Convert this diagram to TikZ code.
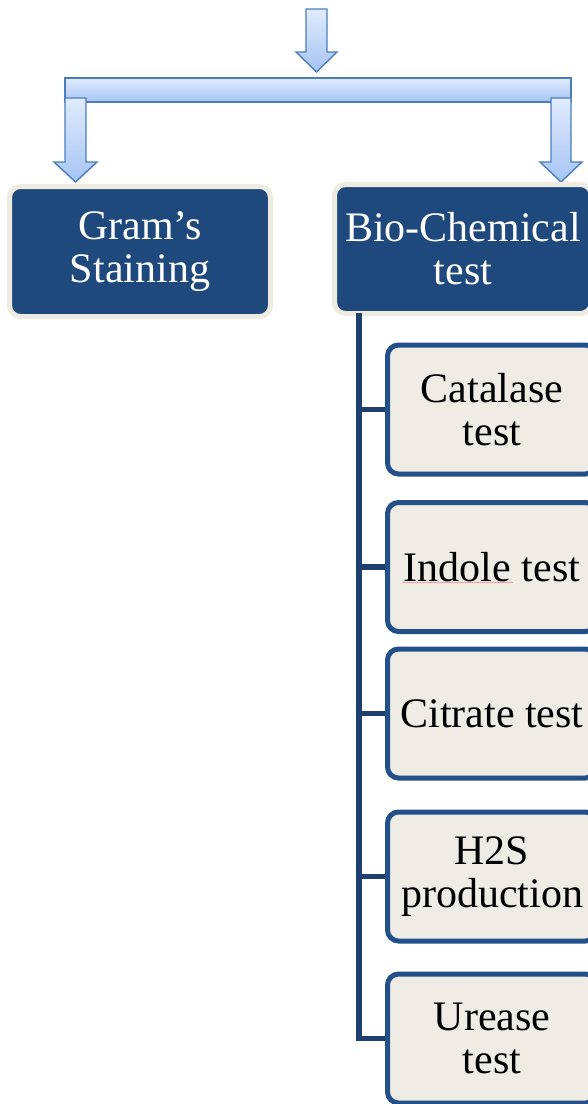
\documentclass[tikz,border=0pt]{standalone}
\usepackage{fontspec}
\setmainfont{Liberation Serif}
\usetikzlibrary{positioning}

\definecolor{arrowtop}{HTML}{E0EBFD}
\definecolor{arrowbot}{HTML}{A6C4F3}
\definecolor{arrowline}{HTML}{4A7EBB}
\definecolor{headfill}{HTML}{1F497D}
\definecolor{headrim}{HTML}{EEECE1}
\definecolor{testfill}{HTML}{EEECE5}
\definecolor{testline}{HTML}{24508A}
\definecolor{spinecol}{HTML}{1F3F6F}
\definecolor{spellred}{HTML}{F4A0A0}

\tikzset{
  blockarrow/.style={draw=arrowline, line width=1.4pt, line join=miter,
    top color=arrowtop, bottom color=arrowbot},
  headbox/.style={draw=headrim, line width=5pt, fill=headfill, rounded corners=11pt,
    text=white, align=center, inner sep=0pt,
    font=\fontsize{42}{43}\selectfont},
  testbox/.style={draw=testline, line width=5pt, fill=testfill, rounded corners=11pt,
    text=black, align=center, inner sep=0pt, minimum width=209pt, minimum height=129pt,
    font=\fontsize{42}{43}\selectfont},
  spine/.style={draw=spinecol, line width=5.5pt}
}

\begin{document}
\begin{tikzpicture}[x=1pt, y=-1pt]
  \useasboundingbox (0,0) rectangle (588,1104);
  \clip (0,0) rectangle (588,1104);

  % block arrows feeding the two branches
  \draw[blockarrow] (306,9) -- (327,9) -- (327,52) -- (337,52) -- (316.5,72)
    -- (296,52) -- (306,52) -- cycle;
  \draw[blockarrow] (65,78) rectangle (571,102);
  \draw[blockarrow] (65,98) -- (86,98) -- (86,162) -- (97,162) -- (75.5,182)
    -- (54,162) -- (65,162) -- cycle;
  \draw[blockarrow] (551,98) -- (571,98) -- (571,162) -- (582,162) -- (561,182)
    -- (540,162) -- (551,162) -- cycle;

  % the two branch heads
  \node[headbox, minimum width=261pt, minimum height=130pt] (gram) at (140,251.5)
    {\raisebox{-3pt}{\parbox{250pt}{\centering Gram’s\\Staining}}};
  \node[headbox, minimum width=257pt, minimum height=129pt] (bio) at (463,249)
    {Bio-Chemical\\test};

  % biochemical tests
  \node[testbox] (catalase) at (492,409.5) {Catalase\\test};
  \node[testbox] (indole)   at (492,567)   {Indole test};
  \node[testbox] (citrate)  at (492,713.5) {Citrate test};
  \node[testbox] (hts)      at (492,876.5) {H2S\\production};
  \node[testbox] (urease)   at (492,1038.5) {Urease\\test};

  % spell-check mark under "Indole"
  \draw[spellred, line width=0.8pt] ([shift={(-90,15)}]indole.center) -- ([shift={(21,15)}]indole.center);

  % connector spine
  \coordinate (spinetop) at (359,313);
  \draw[spine] (spinetop) |- (urease.west);
  \foreach \t in {catalase, indole, citrate, hts}
    \draw[spine] (spinetop |- \t.west) -- (\t.west);
\end{tikzpicture}
\end{document}
